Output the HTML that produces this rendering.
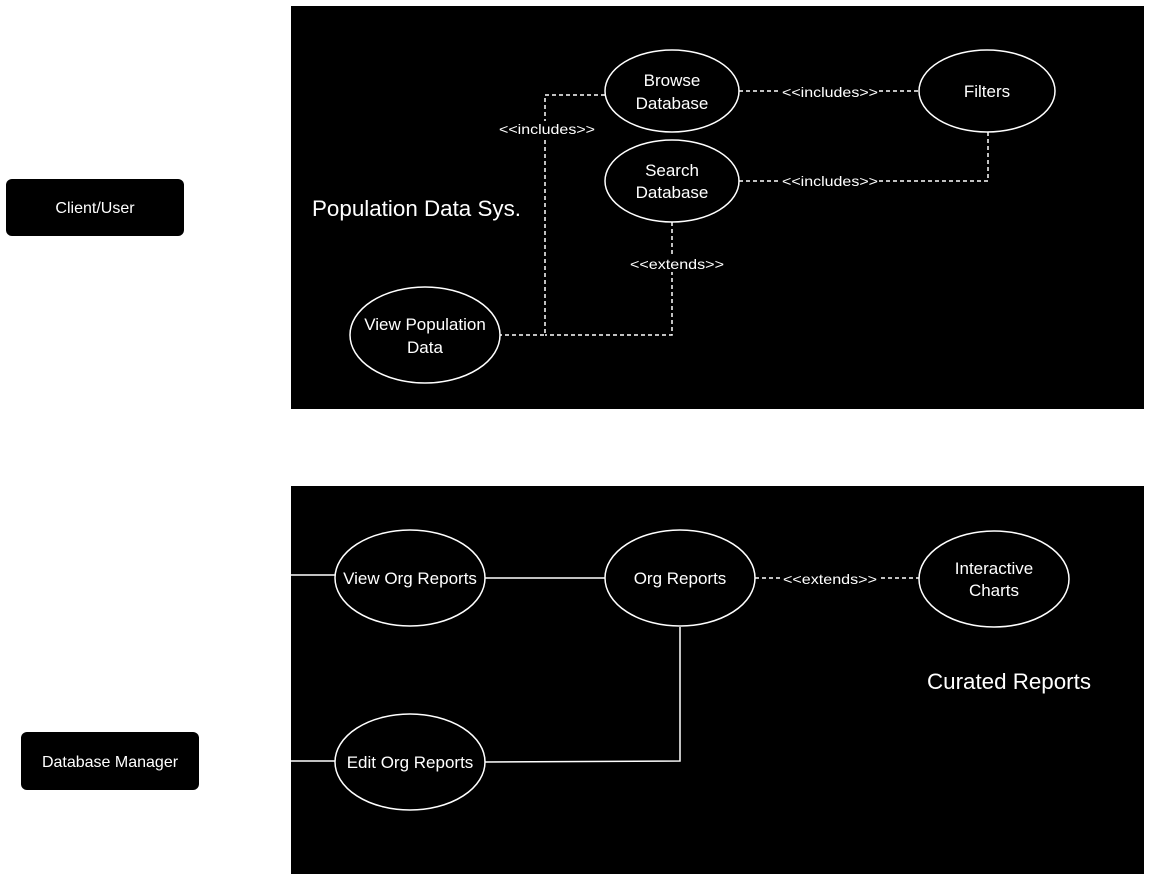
<!DOCTYPE html>
<html><head><meta charset="utf-8"><style>
html,body{margin:0;padding:0;background:#fff;}
svg{display:block;font-family:"Liberation Sans",sans-serif;}
</style></head><body>
<svg width="1152" height="882" viewBox="0 0 1152 882" xmlns="http://www.w3.org/2000/svg">
<rect width="1152" height="882" fill="#fff"/>
<rect x="291" y="6" width="853" height="403" fill="#000"/>
<rect x="291" y="486" width="853" height="388" fill="#000"/>
<rect x="6" y="179" width="178" height="57" rx="6" fill="#000"/>
<text x="95" y="213" fill="#fff" font-size="16" text-anchor="middle">Client/User</text>
<rect x="21" y="732" width="178" height="58" rx="6" fill="#000"/>
<text x="110" y="767" fill="#fff" font-size="16" text-anchor="middle">Database Manager</text>

<g stroke="#fff" stroke-width="1.5" fill="none" stroke-dasharray="4,3">
<line x1="739" y1="91" x2="919" y2="91"/>
<polyline points="739,181 988,181 988,132"/>
<polyline points="605,95 545,95 545,335 500,335"/>
<polyline points="672,222 672,335 545,335"/>
<line x1="755" y1="578" x2="919" y2="578"/>
</g>
<g stroke="#fff" stroke-width="1.5" fill="none">
<line x1="291" y1="575" x2="335" y2="575"/>
<line x1="485" y1="578" x2="605" y2="578"/>
<polyline points="680,627 680,761 485,762"/>
<line x1="291" y1="761" x2="335" y2="761"/>
</g>
<g font-size="14" fill="#fff" text-anchor="middle">
<rect x="781" y="83" width="98" height="16" fill="#000"/>
<text x="830" y="97" textLength="96" lengthAdjust="spacingAndGlyphs">&lt;&lt;includes&gt;&gt;</text>
<rect x="781" y="173" width="98" height="16" fill="#000"/>
<text x="830" y="186" textLength="96" lengthAdjust="spacingAndGlyphs">&lt;&lt;includes&gt;&gt;</text>
<rect x="498" y="121" width="98" height="16" fill="#000"/>
<text x="547" y="134" textLength="96" lengthAdjust="spacingAndGlyphs">&lt;&lt;includes&gt;&gt;</text>
<rect x="629" y="256" width="96" height="16" fill="#000"/>
<text x="677" y="269" textLength="94" lengthAdjust="spacingAndGlyphs">&lt;&lt;extends&gt;&gt;</text>
<rect x="782" y="570" width="96" height="16" fill="#000"/>
<text x="830" y="584" textLength="94" lengthAdjust="spacingAndGlyphs">&lt;&lt;extends&gt;&gt;</text>
</g>
<g stroke="#fff" stroke-width="1.5" fill="#000">
<ellipse cx="672" cy="91" rx="67" ry="41"/>
<ellipse cx="987" cy="91" rx="68" ry="41"/>
<ellipse cx="672" cy="181" rx="67" ry="41"/>
<ellipse cx="425" cy="335" rx="75" ry="48"/>
<ellipse cx="410" cy="578" rx="75" ry="48"/>
<ellipse cx="680" cy="578" rx="75" ry="48"/>
<ellipse cx="994" cy="579" rx="75" ry="48"/>
<ellipse cx="410" cy="762" rx="75" ry="48"/>
</g>
<g font-size="17" fill="#fff" text-anchor="middle">
<text x="672" y="86">Browse</text><text x="672" y="109">Database</text>
<text x="987" y="97">Filters</text>
<text x="672" y="176">Search</text><text x="672" y="198">Database</text>
<text x="425" y="330">View Population</text><text x="425" y="353">Data</text>
<text x="410" y="584">View Org Reports</text>
<text x="680" y="584">Org Reports</text>
<text x="994" y="574">Interactive</text><text x="994" y="596">Charts</text>
<text x="410" y="768">Edit Org Reports</text>
</g>
<text x="312" y="216" font-size="22" fill="#fff" textLength="209" lengthAdjust="spacingAndGlyphs">Population Data Sys.</text>
<text x="927" y="689" font-size="22" fill="#fff" textLength="164" lengthAdjust="spacingAndGlyphs">Curated Reports</text>
</svg>
</body></html>
